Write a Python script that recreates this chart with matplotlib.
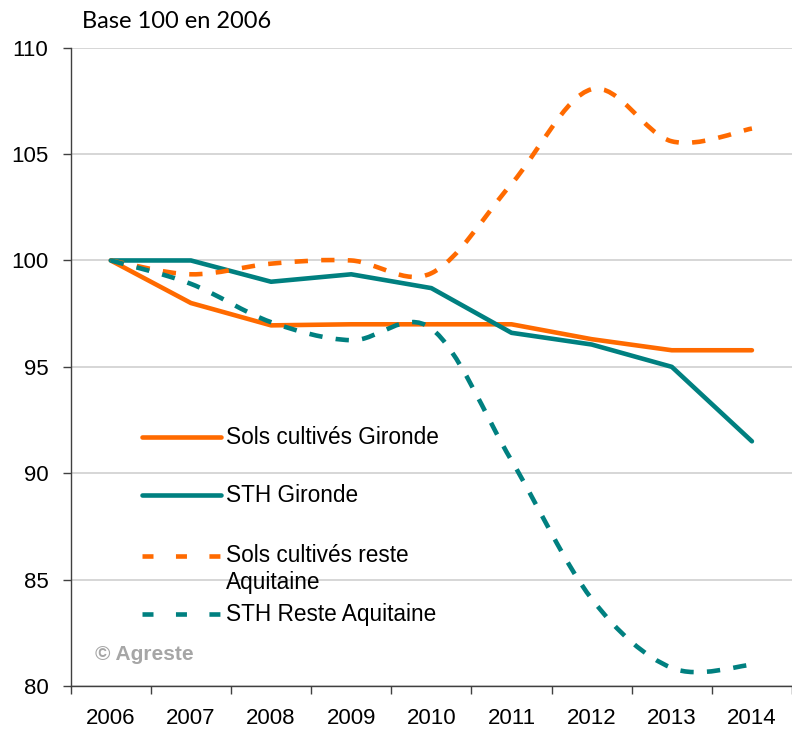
import matplotlib
matplotlib.use("Agg")
import matplotlib.pyplot as plt
from matplotlib.path import Path
from matplotlib.patches import PathPatch
from matplotlib.lines import Line2D
import numpy as np

years = ["2006", "2007", "2008", "2009", "2010", "2011", "2012", "2013", "2014"]
sols_gironde = [100, 98.0, 96.95, 97.0, 97.0, 97.0, 96.3, 95.78, 95.78]
sth_gironde = [100, 100, 99.0, 99.35, 98.7, 96.6, 96.05, 95.0, 91.5]
sols_reste = [100, 99.35, 99.85, 100.0, 99.4, 103.6, 108.05, 105.6, 106.2]
sth_reste = [100, 98.9, 97.1, 96.25, 96.8, 90.6, 84.1, 80.85, 81.0]

labels = ["Sols cultivés Gironde", "STH Gironde", "Sols cultivés reste", "STH Reste Aquitaine"]
yticks = [80, 85, 90, 95, 100, 105, 110]

ORANGE = "#FF6A00"
TEAL = "#008080"

W, H = 792, 731
fig = plt.figure(figsize=(W / 100, H / 100), dpi=100)
fig.patch.set_facecolor("white")

def fx(px):
    return px / W

def fy(py):
    return 1 - py / H

left, right, top, bottom = 70.7, 792, 47.7, 686
ax = fig.add_axes([fx(left), fy(bottom), fx(right) - fx(left), fy(top) - fy(bottom)])

x = np.arange(len(years))
ax.set_xlim(-0.5, -0.5 + (right - left) / 80.9)
ax.set_ylim(80, 110)

LW = 3.3
DASH = (0, (2.9, 2.9))
LEG_DASH = (0, (2.4, 4.9))

def smooth_path(xs, ys):
    pts = np.column_stack([xs, ys]).astype(float)
    n = len(pts)
    verts = [pts[0]]
    codes = [Path.MOVETO]
    for i in range(n - 1):
        p0 = pts[i - 1] if i > 0 else pts[i]
        p1 = pts[i]
        p2 = pts[i + 1]
        p3 = pts[i + 2] if i + 2 < n else pts[i + 1]
        c1 = p1 + (p2 - p0) / 6.0
        c2 = p2 - (p3 - p1) / 6.0
        verts += [c1, c2, p2]
        codes += [Path.CURVE4] * 3
    return Path(verts, codes)

# solid series (straight segments)
ax.plot(x, sols_gironde, color=ORANGE, lw=LW, solid_capstyle="round", solid_joinstyle="round", zorder=3)
ax.plot(x, sth_gironde, color=TEAL, lw=LW, solid_capstyle="round", solid_joinstyle="round", zorder=3)

# smoothed dashed series
for vals, col in [(sols_reste, ORANGE), (sth_reste, TEAL)]:
    patch = PathPatch(smooth_path(x, vals), facecolor="none", edgecolor=col, lw=LW,
                      linestyle=DASH, capstyle="butt", zorder=3)
    ax.add_patch(patch)

# axes styling
ax.set_yticks(yticks)
ax.set_yticklabels([str(v) for v in yticks])
ax.set_xticks(x)
ax.set_xticklabels(years)
ax.set_xticks(np.arange(-0.5, len(years) + 0.5, 1), minor=True)
ax.tick_params(axis="x", which="major", length=0, pad=16, labelsize=16)
ax.tick_params(axis="x", which="minor", length=6, width=1, color="#404040", direction="out")
ax.tick_params(axis="y", length=6, width=1, color="#404040", pad=10, labelsize=16)
for lab in ax.get_xticklabels() + ax.get_yticklabels():
    lab.set_fontfamily("Liberation Sans")
    lab.set_color("black")

for s in ["top", "right"]:
    ax.spines[s].set_visible(False)
for s in ["left", "bottom"]:
    ax.spines[s].set_color("#404040")
    ax.spines[s].set_linewidth(1)
ax.yaxis.grid(True, color="#D0D0D0", lw=1.2)
ax.set_axisbelow(True)
ax.set_facecolor("white")

# legend (manual, Excel-like)
leg_y = [437, 495, 556, 614]
styles = [(ORANGE, "-"), (TEAL, "-"), (ORANGE, LEG_DASH), (TEAL, LEG_DASH)]
for (col, ls), yy, lab in zip(styles, leg_y, labels):
    l = Line2D([fx(142), fx(221)], [fy(yy), fy(yy)], transform=fig.transFigure,
               color=col, lw=LW, linestyle=ls, solid_capstyle="round", dash_capstyle="butt")
    fig.add_artist(l)
    fig.text(fx(226), fy(yy), lab, fontsize=16.3, family="Liberation Sans",
             va="center", ha="left", color="black")
fig.text(fx(226), fy(583), "Aquitaine", fontsize=16.3, family="Liberation Sans",
         va="center", ha="left", color="black")

fig.text(fx(95), fy(655), "© Agreste", fontsize=15, family="Liberation Sans",
         weight="bold", color="#A6A6A6", va="center", ha="left")

fig.text(fx(82), fy(22), "Base 100 en 2006", fontsize=17, family="Lato",
         va="center", ha="left", color="black")

fig.savefig("out.png", dpi=100, facecolor="white")
